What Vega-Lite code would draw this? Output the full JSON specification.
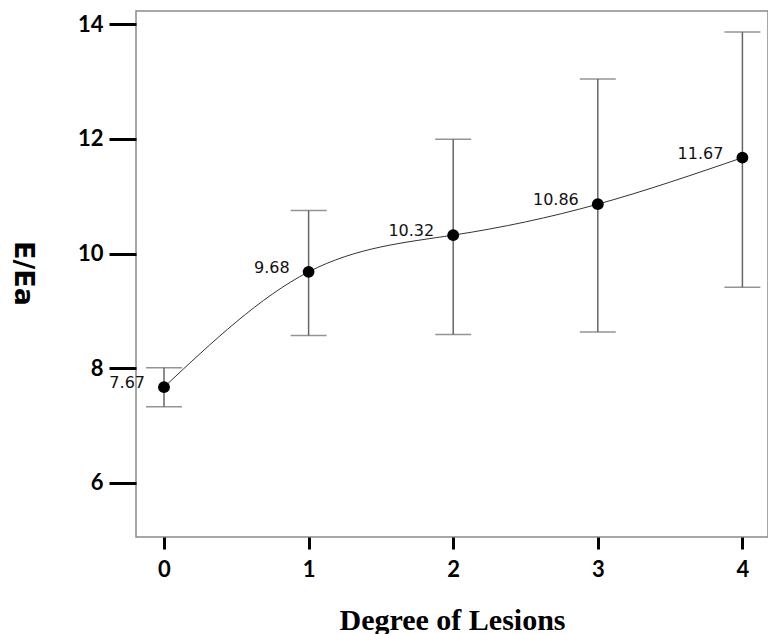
{
  "$schema": "https://vega.github.io/schema/vega-lite/v6.json",
  "autosize": "none",
  "padding": {"left": 136, "top": 11, "right": 0, "bottom": 97},
  "width": 632,
  "height": 526,
  "background": "white",
  "config": {
    "view": {"stroke": "#8a8a8a", "strokeWidth": 1.5},
    "axis": {"grid": false, "domain": false, "tickColor": "#000000", "tickWidth": 3, "labelFont": "Lato", "labelFontWeight": "bold", "labelFontSize": 22, "labelColor": "#000000"}
  },
  "data": {
    "values": [
      {"degree": 0, "mean": 7.67, "lo": 7.33, "hi": 8.01, "label": "7.67"},
      {"degree": 1, "mean": 9.68, "lo": 8.57, "hi": 10.75, "label": "9.68"},
      {"degree": 2, "mean": 10.32, "lo": 8.59, "hi": 11.99, "label": "10.32"},
      {"degree": 3, "mean": 10.86, "lo": 8.63, "hi": 13.04, "label": "10.86"},
      {"degree": 4, "mean": 11.67, "lo": 9.41, "hi": 13.86, "label": "11.67"}
    ]
  },
  "encoding": {
    "x": {
      "field": "degree", "type": "quantitative",
      "scale": {"domain": [-0.1936, 4.177], "nice": false, "zero": false},
      "axis": {"values": [0, 1, 2, 3, 4], "format": "d", "tickSize": 12, "labelPadding": 10, "title": "Degree of Lesions",
        "titleFont": "Liberation Serif", "titleFontWeight": "bold", "titleFontSize": 30, "titleColor": "#000000",
        "titleBaseline": "alphabetic", "titleY": 92, "titleX": 316}
    }
  },
  "layer": [
    {
      "mark": {"type": "line", "interpolate": "natural", "color": "#333333", "strokeWidth": 1},
      "encoding": {
        "y": {
          "field": "mean", "type": "quantitative",
          "scale": {"domain": [5.0588, 14.2266], "nice": false, "zero": false},
          "axis": {"values": [6, 8, 10, 12, 14], "format": "d", "tickSize": 27, "labelPadding": 6, "title": "E/Ea",
            "titleFont": "DejaVu Sans", "titleFontWeight": "bold", "titleFontSize": 27, "titleColor": "#000000",
            "titleAngle": 90, "titleBaseline": "middle", "titleAlign": "center", "titleX": -114, "titleY": 262}
        }
      }
    },
    {
      "mark": {"type": "rule", "color": "#666666", "strokeWidth": 1.5},
      "encoding": {"y": {"field": "lo", "type": "quantitative"}, "y2": {"field": "hi"}}
    },
    {
      "mark": {"type": "tick", "orient": "horizontal", "color": "#666666", "thickness": 1.5, "size": 36},
      "encoding": {"y": {"field": "lo", "type": "quantitative"}}
    },
    {
      "mark": {"type": "tick", "orient": "horizontal", "color": "#666666", "thickness": 1.5, "size": 36},
      "encoding": {"y": {"field": "hi", "type": "quantitative"}}
    },
    {
      "mark": {"type": "circle", "size": 140, "color": "#000000", "opacity": 1},
      "encoding": {"y": {"field": "mean", "type": "quantitative"}}
    },
    {
      "mark": {"type": "text", "align": "right", "baseline": "alphabetic", "dx": -19, "dy": 1, "font": "DejaVu Sans", "fontSize": 16, "color": "#111111"},
      "encoding": {"y": {"field": "mean", "type": "quantitative"}, "text": {"field": "label"}}
    }
  ]
}
